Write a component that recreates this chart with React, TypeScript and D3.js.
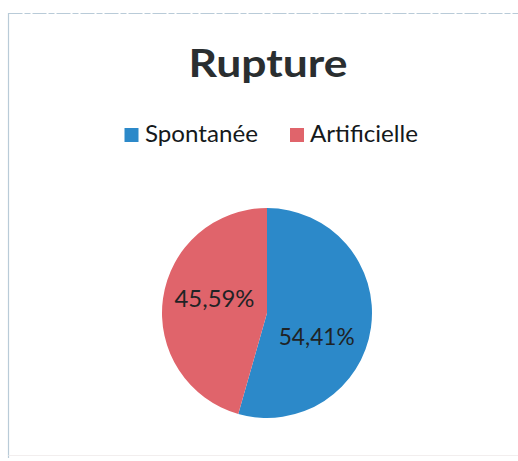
import React from "react";
import * as d3 from "d3";

const categories = ["Spontanée", "Artificielle"];
const values = [54.41, 45.59];
const labels = ["54,41%", "45,59%"];
const colors = ["#2C89C9", "#E0646B"];
const title = "Rupture";

export default function App() {
  const W = 518, H = 461;
  const cx = 267, cy = 313, r = 105;
  const pie = d3.pie<number>().sort(null)(values);
  const arc = d3.arc<d3.PieArcDatum<number>>().innerRadius(0).outerRadius(r);
  // best-fit label placement: shifted angles relative to slice centroid
  const labelShift = [0.29, 0.14];
  const labelR = r * 0.52;
  const font = "Lato, 'Open Sans', sans-serif";
  return (
    <svg width={W} height={H} style={{ position: "fixed", left: 0, top: 0 }} fontFamily={font}>
      <rect x={0} y={0} width={W} height={H} fill="#fff" />
      <line x1={8.5} y1={13} x2={8.5} y2={458} stroke="#b9cbd8" strokeWidth={1.2} />
      <line x1={8.5} y1={13.5} x2={W} y2={13.5} stroke="#b9cbd8" strokeWidth={1.2} strokeDasharray="14 2 6 2" />
      <line x1={8.5} y1={455.5} x2={W} y2={455.5} stroke="#f2eeee" strokeWidth={1} />
      <text x={268} y={77} textAnchor="middle" fontSize={39} fontWeight={700} fill="#2a2e30" textLength={159} lengthAdjust="spacingAndGlyphs">{title}</text>
      <rect x={124.5} y={128} width={14} height={14} fill={colors[0]} />
      <text x={145} y={142} fontSize={23} fill="#15191b" textLength={113} lengthAdjust="spacingAndGlyphs">{categories[0]}</text>
      <rect x={290} y={128} width={14} height={14} fill={colors[1]} />
      <text x={310} y={142} fontSize={23} fill="#15191b" textLength={108} lengthAdjust="spacingAndGlyphs">{categories[1]}</text>
      <g transform={`translate(${cx},${cy})`}>
        {pie.map((d, i) => (
          <path key={i} d={arc(d) || ""} fill={colors[i]} />
        ))}
        {pie.map((d, i) => {
          const a = (d.startAngle + d.endAngle) / 2 + labelShift[i];
          const [x, y] = d3.pointRadial(a, labelR);
          return (
            <text key={"l" + i} x={x} y={y} textAnchor="middle" dominantBaseline="central" fontSize={23} fill="#1f2325" textLength={i === 0 ? 76 : 80} lengthAdjust="spacingAndGlyphs">{labels[i]}</text>
          );
        })}
      </g>
    </svg>
  );
}
